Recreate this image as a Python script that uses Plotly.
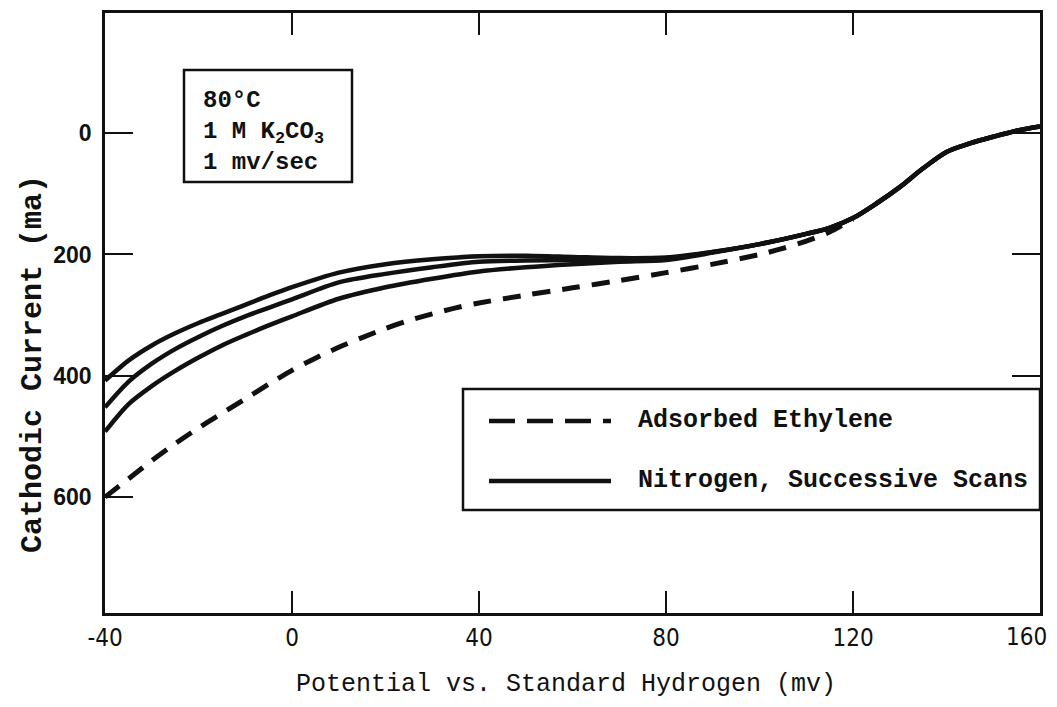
import plotly.graph_objects as go

# ---- data ----
potential_mv = [-40, -35, -30, -25, -20, -15, -10, -5, 0, 10, 20, 30, 40, 50, 60, 70, 80,
                90, 100, 110, 115, 120, 125, 130, 135, 140, 145, 150, 155, 160]
scan_1 = [408, 375, 350, 330, 313, 298, 283, 268, 254, 230, 216, 208, 203, 202, 204, 206, 205,
          196, 183, 166, 156, 140, 116, 89, 58, 31, 17, 6, -4, -11]
scan_2 = [452, 410, 380, 356, 336, 318, 302, 288, 274, 246, 232, 221, 212, 210, 209, 209, 207,
          196, 183, 166, 156, 140, 116, 89, 58, 31, 17, 6, -4, -11]
scan_3 = [492, 447, 417, 392, 370, 350, 333, 317, 302, 273, 254, 240, 228, 221, 216, 212, 209,
          197, 183, 166, 156, 140, 116, 89, 58, 31, 17, 6, -4, -11]

ethylene_mv = [-40, -35, -30, -25, -20, -15, -10, -5, 0, 5, 10, 15, 20, 25, 30, 35, 40, 50, 60,
               70, 80, 90, 100, 105, 110, 115, 120]
ethylene_ma = [600, 570, 540, 512, 486, 462, 438, 414, 391, 371, 353, 337, 322, 309, 298, 288,
               280, 267, 255, 243, 230, 216, 200, 190, 178, 163, 142]

x_ticks = [-40, 0, 40, 80, 120, 160]
y_ticks = [0, 200, 400, 600]

legend_labels = ["Adsorbed Ethylene", "Nitrogen, Successive Scans"]
conditions = ["80°C", "1 M K<sub>2</sub>CO<sub>3</sub>", "1 mv/sec"]

BLACK = "#111111"
MONO = "Liberation Mono, Courier New, monospace"
XTICK_FONT = dict(family="Liberation Sans Narrow, DejaVu Sans Condensed, sans-serif",
                  size=24, color=BLACK)

fig = go.Figure()
fig.add_trace(go.Scatter(x=ethylene_mv, y=ethylene_ma, mode="lines",
                         line=dict(color=BLACK, width=5, dash="18px,12px", shape="spline", smoothing=0.8),
                         name=legend_labels[0], showlegend=False))
for s in (scan_1, scan_2, scan_3):
    fig.add_trace(go.Scatter(x=potential_mv, y=s, mode="lines",
                             line=dict(color=BLACK, width=4.5, shape="spline", smoothing=0.8),
                             name=legend_labels[1], showlegend=False))

# page has an 8px body margin: figure is drawn at (8, 8)
OFF = 8
W, H = 1041, 690
PL, PR, PT, PB = 105, 1040, 13, 613          # plot area in page pixels
L, T = PL - OFF, PT - OFF
R, B = W - (PR - OFF), H - (PB - OFF)
pw, ph = PR - PL, PB - PT


def px(xp):
    return (xp - PL) / pw


def py(yp):
    return (PB - yp) / ph


shapes = [
    # conditions box
    dict(type="rect", xref="paper", yref="paper", x0=px(184), x1=px(352), y0=py(182), y1=py(70),
         line=dict(color=BLACK, width=2.5), fillcolor="white", layer="above"),
    # legend box
    dict(type="rect", xref="paper", yref="paper", x0=px(463), x1=1.0, y0=py(510), y1=py(389),
         line=dict(color=BLACK, width=2.5), fillcolor="white", layer="above"),
    dict(type="line", xref="paper", yref="paper", x0=px(489), x1=px(611), y0=py(421), y1=py(421),
         line=dict(color=BLACK, width=4.5, dash="26px,12px"), layer="above"),
    dict(type="line", xref="paper", yref="paper", x0=px(489), x1=px(611), y0=py(481), y1=py(481),
         line=dict(color=BLACK, width=4.5), layer="above"),
]

annotations = [
    dict(xref="paper", yref="paper", x=px(201), y=py(131), xanchor="left", yanchor="middle",
         text="<br>".join(conditions), showarrow=False, align="left",
         font=dict(family=MONO, size=24, color=BLACK, weight="bold")),
    dict(xref="paper", yref="paper", x=px(636), y=py(420), xanchor="left", yanchor="middle",
         text=legend_labels[0], showarrow=False,
         font=dict(family=MONO, size=25, color=BLACK, weight="bold")),
    dict(xref="paper", yref="paper", x=px(636), y=py(480), xanchor="left", yanchor="middle",
         text=legend_labels[1], showarrow=False,
         font=dict(family=MONO, size=25, color=BLACK, weight="bold")),
    dict(xref="paper", yref="paper", x=px(566), y=py(684), xanchor="center", yanchor="middle",
         text="Potential vs. Standard Hydrogen (mv)", showarrow=False,
         font=dict(family=MONO, size=25, color=BLACK)),
    dict(xref="paper", yref="paper", x=px(33), y=py(364), xanchor="center", yanchor="middle",
         text="Cathodic Current (ma)", showarrow=False, textangle=-90,
         font=dict(family=MONO, size=30, color=BLACK, weight="bold")),
    # last x tick label, kept inside the visible page edge
    dict(xref="x", yref="paper", x=x_ticks[-1], y=py(637), xanchor="right", yanchor="middle",
         xshift=8, text=str(x_ticks[-1]), showarrow=False, borderpad=0, font=XTICK_FONT),
]

fig.update_layout(
    width=W, height=H,
    margin=dict(l=L, r=R, t=T, b=B, autoexpand=False),
    paper_bgcolor="white", plot_bgcolor="white",
    shapes=shapes, annotations=annotations,
    showlegend=False,
)
fig.update_xaxes(range=[-40, 160], tickvals=x_ticks,
                 ticktext=[str(v) for v in x_ticks[:-1]] + [""],
                 showgrid=False, zeroline=False, showline=True, linecolor=BLACK, linewidth=2.5,
                 mirror="ticks", ticks="inside", ticklen=22, tickwidth=2, tickcolor=BLACK,
                 tickfont=XTICK_FONT,
                 ticklabelstandoff=1, ticklabeloverflow="allow", automargin=False)
fig.update_yaxes(range=[791, -198], tickvals=y_ticks, ticktext=[str(v) for v in y_ticks],
                 showgrid=False, zeroline=False, showline=True, linecolor=BLACK, linewidth=2.5,
                 mirror="ticks", ticks="inside", ticklen=28, tickwidth=2, tickcolor=BLACK,
                 tickfont=dict(family="Liberation Sans, Arial, sans-serif", size=23, color=BLACK,
                               weight="bold"),
                 ticklabelstandoff=6, automargin=False)

fig.write_html("out.html")
